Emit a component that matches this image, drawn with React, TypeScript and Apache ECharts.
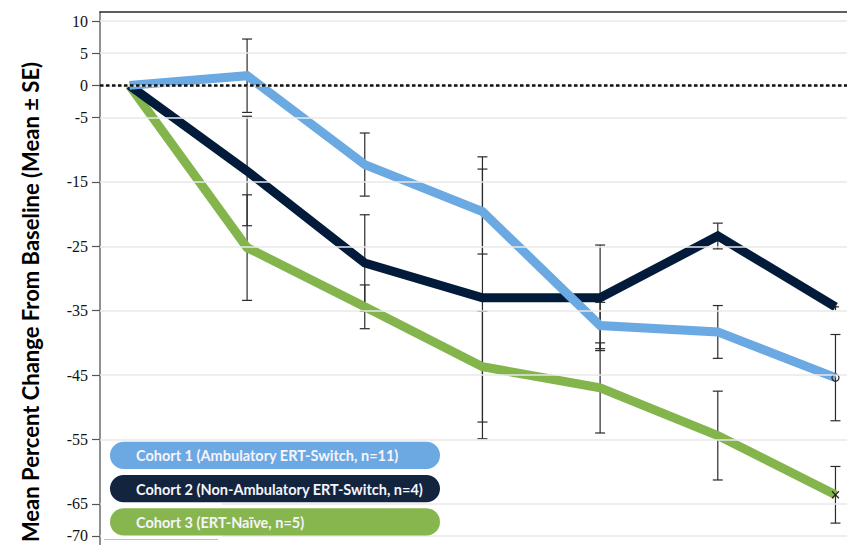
import React, { useEffect, useRef } from "react";
import * as echarts from "echarts";

// Visit index along the horizontal axis
const visits = [0, 1, 2, 3, 4, 5, 6];

// Mean percent change from baseline per cohort
const cohort1Mean = [0, 1.5, -12.3, -19.6, -37.3, -38.3, -45.4];
const cohort2Mean = [0, -13.3, -27.6, -33.0, -33.0, -23.4, -34.4];
const cohort3Mean = [0, -25.2, -34.4, -43.7, -47.0, -54.4, -63.6];

// Standard errors (0 = no bar drawn)
const cohort1SE = [0, 5.7, 4.9, 6.6, 3.6, 4.1, 6.7];
const cohort2SE = [0, 8.5, 7.5, 21.9, 8.2, 2.0, 0];
const cohort3SE = [0, 8.2, 3.4, 8.6, 7.0, 6.9, 4.4];

const cohortNames = [
  "Cohort 1 (Ambulatory ERT-Switch, n=11)",
  "Cohort 2 (Non-Ambulatory ERT-Switch, n=4)",
  "Cohort 3 (ERT-Naïve, n=5)",
];
const lineColors = ["#6AA9E1", "#031B3A", "#84B54C"];
const pillColors = ["#6CA9E3", "#13243F", "#87B64F"];
const endMarks = ["o", "+", "x"];

// Y-axis tick values shown on the axis
const yTicks = [10, 5, 0, -5, -15, -25, -35, -45, -55, -65, -70];

const yTitle = "Mean Percent Change From Baseline (Mean ± SE)";

const means = [cohort1Mean, cohort2Mean, cohort3Mean];
const ses = [cohort1SE, cohort2SE, cohort3SE];

export default function App() {
  const ref = useRef<HTMLDivElement>(null);

  useEffect(() => {
    if (!ref.current) return;
    const chart = echarts.init(ref.current, undefined, { renderer: "svg" });

    const errorData: number[][] = [];
    means.forEach((m, ci) => {
      m.forEach((v, i) => {
        const se = ses[ci][i];
        if (se > 0) errorData.push([visits[i], v - se, v + se]);
      });
    });

    const markData = means.map((m, ci) => [
      visits[visits.length - 1],
      m[m.length - 1],
      ci,
    ]);

    const gridStyle = { color: "#E8E8E8", width: 1.5, type: "solid" as const };

    // Draw order: green, navy, blue (blue on top)
    const order = [2, 1, 0];

    const legendItems: any[] = [];
    cohortNames.forEach((name, i) => {
      const top = 441.7 + i * 33.3;
      legendItems.push({
        type: "rect",
        z: 60,
        shape: { x: 110, y: top, width: 330, height: 27.3, r: 13.6 },
        style: { fill: pillColors[i] },
      });
      legendItems.push({
        type: "text",
        z: 61,
        x: 136,
        y: top + 14,
        style: {
          text: name,
          fill: "#F6F4FB",
          fontFamily: "Lato",
          fontWeight: "bold",
          fontSize: 14.5,
          verticalAlign: "middle",
        },
      });
    });

    const option: any = {
      animation: false,
      grid: { left: 100, right: 0, top: 12, bottom: 0 },
      xAxis: {
        type: "value",
        min: -0.25,
        max: 6.098,
        position: "top",
        axisLine: { show: true, onZero: false, lineStyle: { color: "#2a2a2a", width: 1.5 } },
        axisTick: { show: false },
        axisLabel: { show: false },
        splitLine: { show: false },
      },
      yAxis: {
        type: "value",
        min: -71.4,
        max: 11.4,
        axisLine: { show: true, onZero: false, lineStyle: { color: "#6b6b6b", width: 1.5 } },
        axisTick: {
          show: true,
          customValues: yTicks,
          length: 8,
          lineStyle: { color: "#555", width: 1.2 },
        },
        axisLabel: {
          customValues: yTicks,
          fontFamily: "'Liberation Serif', 'Times New Roman', serif",
          fontSize: 16,
          color: "#111",
          margin: 12,
        },
        splitLine: { show: false },
      },
      graphic: [
        {
          type: "text",
          x: 30,
          y: 302,
          rotation: Math.PI / 2,
          style: {
            text: yTitle,
            fontFamily: "Lato",
            fontWeight: "bold",
            fontSize: 22,
            fill: "#000",
            align: "center",
            verticalAlign: "middle",
          },
        },
        {
          type: "rect",
          z: 50,
          shape: { x: 101, y: 470, width: 121, height: 68.5 },
          style: { fill: "#fff" },
        },
        {
          type: "line",
          z: 50,
          shape: { x1: 104, y1: 539.5, x2: 218, y2: 539.5 },
          style: { stroke: "#bdbdbd", lineWidth: 1 },
        },
        ...legendItems,
      ],
      series: [
        {
          type: "line",
          data: [],
          silent: true,
          z: 1,
          markLine: {
            silent: true,
            symbol: "none",
            label: { show: false },
            lineStyle: gridStyle,
            data: [
              ...yTicks.map((v) => ({ yAxis: v })),
              {
                yAxis: 0,
                lineStyle: { color: "#111", width: 2.5, type: [3.5, 2.5] },
              },
            ],
          },
        },
        {
          type: "custom",
          silent: true,
          z: 2,
          data: errorData,
          encode: { x: 0, y: [1, 2] },
          renderItem: (_params: any, api: any) => {
            const x = api.value(0);
            const lo = api.coord([x, api.value(1)]);
            const hi = api.coord([x, api.value(2)]);
            const half = 5;
            const style = { stroke: "#2a2a2a", lineWidth: 1.2 };
            return {
              type: "group",
              children: [
                { type: "line", shape: { x1: hi[0], y1: hi[1], x2: lo[0], y2: lo[1] }, style },
                { type: "line", shape: { x1: hi[0] - half, y1: hi[1], x2: hi[0] + half, y2: hi[1] }, style },
                { type: "line", shape: { x1: lo[0] - half, y1: lo[1], x2: lo[0] + half, y2: lo[1] }, style },
              ],
            };
          },
        },
        ...order.map((ci) => ({
          type: "line",
          name: cohortNames[ci],
          z: 3,
          data: visits.map((x, i) => [x, means[ci][i]]),
          symbol: "none",
          lineStyle: { color: lineColors[ci], width: 9, join: "miter" },
          itemStyle: { color: lineColors[ci] },
          silent: true,
        })),
        {
          type: "custom",
          silent: true,
          z: 4,
          data: markData,
          encode: { x: 0, y: 1 },
          renderItem: (_params: any, api: any) => {
            const p = api.coord([api.value(0), api.value(1)]);
            const kind = endMarks[api.value(2)];
            const style = { stroke: "#222", lineWidth: 1.2, fill: "none" };
            const s = 3.5;
            if (kind === "o") {
              return { type: "circle", shape: { cx: p[0], cy: p[1], r: s }, style };
            }
            if (kind === "+") {
              return {
                type: "group",
                children: [
                  { type: "line", shape: { x1: p[0] - s, y1: p[1], x2: p[0] + s, y2: p[1] }, style },
                  { type: "line", shape: { x1: p[0], y1: p[1] - s, x2: p[0], y2: p[1] + s }, style },
                ],
              };
            }
            return {
              type: "group",
              children: [
                { type: "line", shape: { x1: p[0] - s, y1: p[1] - s, x2: p[0] + s, y2: p[1] + s }, style },
                { type: "line", shape: { x1: p[0] - s, y1: p[1] + s, x2: p[0] + s, y2: p[1] - s }, style },
              ],
            };
          },
        },
      ],
    };

    chart.setOption(option);
    return () => chart.dispose();
  }, []);

  return (
    <div
      ref={ref}
      style={{ position: "fixed", left: 0, top: 0, width: 847, height: 545, background: "#fff" }}
    />
  );
}
